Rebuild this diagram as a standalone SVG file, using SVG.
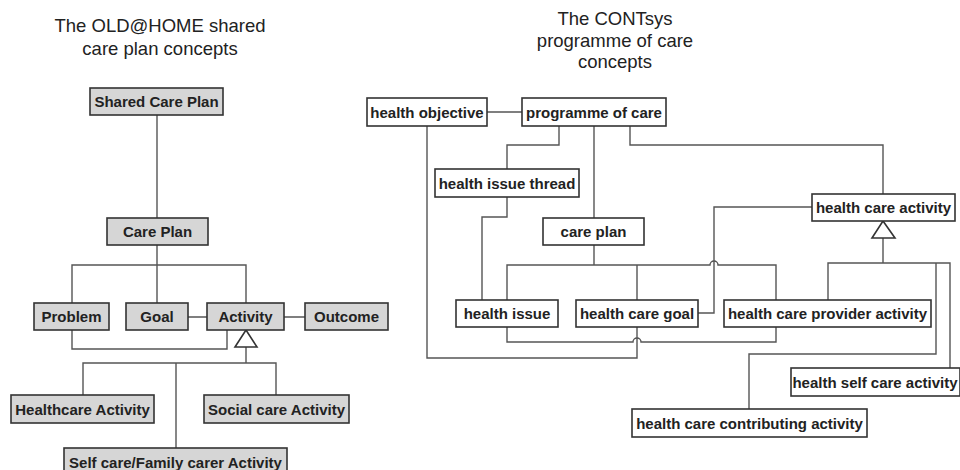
<svg xmlns="http://www.w3.org/2000/svg" width="960" height="470" viewBox="0 0 960 470">
<style>
.title{font-family:"Liberation Sans",Arial,sans-serif;font-size:18.5px;fill:#222;text-anchor:middle}
.box rect{stroke:#333;stroke-width:1.6}
.g rect{fill:#d6d6d6}
.w rect{fill:#fff}
.box text{font-family:"Liberation Sans",Arial,sans-serif;font-weight:bold;font-size:15px;fill:#222;text-anchor:middle}
.conn path,.conn polygon{fill:none;stroke:#555;stroke-width:1.4}
.conn polygon{fill:#fff;stroke:#333;stroke-width:1.6}
</style>
<rect width="960" height="470" fill="#fff"/>
<text class="title" x="160" y="32">The OLD@HOME shared</text>
<text class="title" x="160" y="55">care plan concepts</text>
<text class="title" x="615" y="25">The CONTsys</text>
<text class="title" x="615" y="47">programme of care</text>
<text class="title" x="615" y="68">concepts</text>

<g class="conn">
<!-- left -->
<path d="M157 115V218"/>
<path d="M157 245V265M72 303V265H246V303M157 265V303"/>
<path d="M188 317H207M284 317H305"/>
<path d="M72 330V349H227V330"/>
<path d="M246 347V363M83 395V363H276V395M176 363V448"/>
<polygon points="246,330 235,347 257,347"/>
<!-- right -->
<path d="M487 112H522"/>
<path d="M559 126V145H507V169"/>
<path d="M594 126V218"/>
<path d="M630 126V145H883V194"/>
<path d="M507 197V217H482V300"/>
<path d="M594 245V265"/>
<path d="M507 300V265H710A4 4 0 0 1 718 265H776V300M637 265V300"/>
<path d="M698 313H714V207H812"/>
<path d="M883 238V263M828 300V263H950V368M936 263V354H749V409"/>
<polygon points="883,221 872,238 895,238"/>
<path d="M507 327V342H633A4 4 0 0 1 641 342H776V327"/>
<path d="M637 327V358H427V126"/>
</g>

<g id="shared-care-plan" class="box g"><rect x="90" y="88" width="133" height="27"/><text x="156.5" y="107">Shared Care Plan</text></g>
<g id="care-plan" class="box g"><rect x="107" y="218" width="101" height="27"/><text x="157.5" y="237">Care Plan</text></g>
<g id="problem" class="box g"><rect x="34" y="303" width="75" height="27"/><text x="71.5" y="322">Problem</text></g>
<g id="goal" class="box g"><rect x="126" y="303" width="62" height="27"/><text x="157" y="322">Goal</text></g>
<g id="activity" class="box g"><rect x="207" y="303" width="77" height="27"/><text x="245.5" y="322">Activity</text></g>
<g id="outcome" class="box g"><rect x="305" y="303" width="83" height="27"/><text x="346.5" y="322">Outcome</text></g>
<g id="healthcare-activity" class="box g"><rect x="11" y="395" width="143" height="28"/><text x="82.5" y="414.5">Healthcare Activity</text></g>
<g id="social-care-activity" class="box g"><rect x="204" y="395" width="145" height="28"/><text x="276.5" y="414.5">Social care Activity</text></g>
<g id="self-care-activity" class="box g"><rect x="64" y="448" width="223" height="28"/><text x="175.5" y="467.5">Self care/Family carer Activity</text></g>

<g id="health-objective" class="box w"><rect x="367" y="98" width="120" height="28"/><text x="427" y="117.5">health objective</text></g>
<g id="programme-of-care" class="box w"><rect x="522" y="98" width="144" height="28"/><text x="594" y="117.5">programme of care</text></g>
<g id="health-issue-thread" class="box w"><rect x="435" y="169" width="144" height="28"/><text x="507" y="188.5">health issue thread</text></g>
<g id="care-plan-r" class="box w"><rect x="543" y="218" width="101" height="27"/><text x="593.5" y="237">care plan</text></g>
<g id="health-care-activity" class="box w"><rect x="812" y="194" width="143" height="27"/><text x="883.5" y="213">health care activity</text></g>
<g id="health-issue" class="box w"><rect x="456" y="300" width="102" height="27"/><text x="507" y="319">health issue</text></g>
<g id="health-care-goal" class="box w"><rect x="576" y="300" width="122" height="27"/><text x="637" y="319">health care goal</text></g>
<g id="health-care-provider-activity" class="box w"><rect x="724" y="300" width="207" height="27"/><text x="827.5" y="319">health care provider activity</text></g>
<g id="health-self-care-activity" class="box w"><rect x="791" y="368" width="169" height="28"/><text x="875" y="387.5">health self care activity</text></g>
<g id="health-care-contributing-activity" class="box w"><rect x="632" y="409" width="235" height="28"/><text x="749.5" y="428.5">health care contributing activity</text></g>
</svg>
